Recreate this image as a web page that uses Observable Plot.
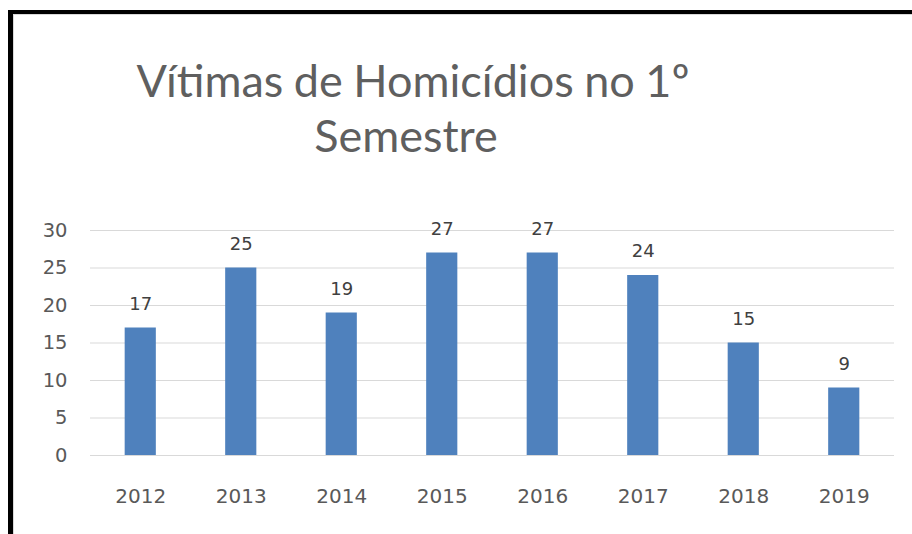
<!DOCTYPE html>
<html>
<head>
<meta charset="utf-8">
<script src="https://cdn.jsdelivr.net/npm/d3@7"></script>
<script src="https://cdn.jsdelivr.net/npm/@observablehq/plot@0.6"></script>
<style>
  html, body { margin: 0; padding: 0; background: #fff; width: 912px; height: 534px; overflow: hidden; }
  #frame { position: absolute; left: 8px; top: 10px; width: 920px; height: 540px;
           border-left: 5px solid #000; border-top: 4px solid #000; box-sizing: border-box; }
  #frame::before { content: ""; position: absolute; left: 0; top: 0; bottom: 0; width: 1px; background: #d9d9d9; }
  #frame::after { content: ""; position: absolute; left: 0; top: 0; right: 0; height: 1px; background: #d9d9d9; }
  .title { position: absolute; text-align: center; white-space: nowrap;
           font-family: Lato, "Open Sans", sans-serif; font-size: 45px; line-height: 45px; color: #5f5f5f; }
  #t1 { left: 113px; width: 600px; top: 58px; word-spacing: -1px; }
  #t2 { left: 106px; width: 600px; top: 113px; }
  #chart { position: absolute; left: 0; top: 190px; }
</style>
</head>
<body>
<div id="frame"></div>
<div class="title" id="t1">Vítimas de Homicídios no 1º</div>
<div class="title" id="t2">Semestre</div>
<div id="chart"></div>
<script>
const years = ["2012", "2013", "2014", "2015", "2016", "2017", "2018", "2019"];
const victims = [17, 25, 19, 27, 27, 24, 15, 9];
const yTicks = [0, 5, 10, 15, 20, 25, 30];

const data = years.map((y, i) => ({year: y, value: victims[i]}));

const plot = Plot.plot({
  width: 912,
  height: 344,
  marginLeft: 90,
  marginRight: 18,
  marginTop: 40,
  marginBottom: 79,
  style: {fontFamily: "'DejaVu Sans', sans-serif", fontSize: "20px", color: "#595959", background: "transparent"},
  x: {domain: years, paddingInner: 0.69, paddingOuter: 0.345, round: false, label: null},
  y: {domain: [0, 30], label: null},
  marks: [
    Plot.gridY(yTicks, {stroke: "#d9d9d9", strokeOpacity: 1, strokeWidth: 1}),
    Plot.barY(data, {x: "year", y: "value", fill: "#4F81BD"}),
    Plot.text(data, {x: "year", y: "value", text: d => String(d.value), dy: -24, fill: "#404040", fontSize: 18}),
    Plot.axisY(yTicks, {tickSize: 0, tickPadding: 23, label: null, fill: "#595959", fontSize: 19.5}),
    Plot.axisX({tickSize: 0, tickPadding: 33.5, label: null, fill: "#595959", fontSize: 20})
  ]
});
document.getElementById("chart").appendChild(plot);
</script>
</body>
</html>
